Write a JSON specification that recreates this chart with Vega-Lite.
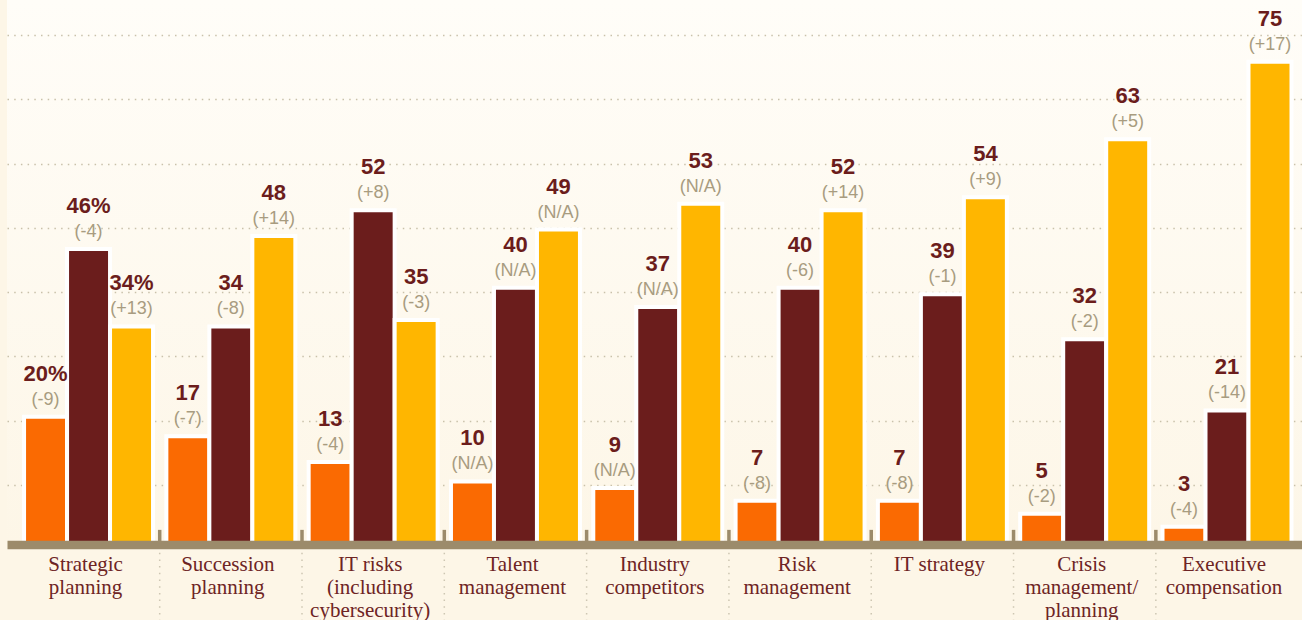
{
  "$schema": "https://vega.github.io/schema/vega-lite/v6.json",
  "width": 1295,
  "height": 546,
  "autosize": {"type": "none"},
  "padding": {"left": 7, "top": 0, "right": 0, "bottom": 74},
  "background": "#fdf6e7",
  "config": {
    "view": {
      "stroke": null,
      "fill": {"gradient": "linear", "x1": 0, "y1": 0, "x2": 0, "y2": 1, "stops": [{"offset": 0, "color": "#fffdf8"}, {"offset": 1, "color": "#fdf6e7"}]}
    }
  },
  "data": {
    "values": [
      {"cat": "Strategic planning", "series": "s1", "value": 20, "label": "20%", "change": "(-9)"},
      {"cat": "Strategic planning", "series": "s2", "value": 46, "label": "46%", "change": "(-4)"},
      {"cat": "Strategic planning", "series": "s3", "value": 34, "label": "34%", "change": "(+13)"},
      {"cat": "Succession planning", "series": "s1", "value": 17, "label": "17", "change": "(-7)"},
      {"cat": "Succession planning", "series": "s2", "value": 34, "label": "34", "change": "(-8)"},
      {"cat": "Succession planning", "series": "s3", "value": 48, "label": "48", "change": "(+14)"},
      {"cat": "IT risks (including cybersecurity)", "series": "s1", "value": 13, "label": "13", "change": "(-4)"},
      {"cat": "IT risks (including cybersecurity)", "series": "s2", "value": 52, "label": "52", "change": "(+8)"},
      {"cat": "IT risks (including cybersecurity)", "series": "s3", "value": 35, "label": "35", "change": "(-3)"},
      {"cat": "Talent management", "series": "s1", "value": 10, "label": "10", "change": "(N/A)"},
      {"cat": "Talent management", "series": "s2", "value": 40, "label": "40", "change": "(N/A)"},
      {"cat": "Talent management", "series": "s3", "value": 49, "label": "49", "change": "(N/A)"},
      {"cat": "Industry competitors", "series": "s1", "value": 9, "label": "9", "change": "(N/A)"},
      {"cat": "Industry competitors", "series": "s2", "value": 37, "label": "37", "change": "(N/A)"},
      {"cat": "Industry competitors", "series": "s3", "value": 53, "label": "53", "change": "(N/A)"},
      {"cat": "Risk management", "series": "s1", "value": 7, "label": "7", "change": "(-8)"},
      {"cat": "Risk management", "series": "s2", "value": 40, "label": "40", "change": "(-6)"},
      {"cat": "Risk management", "series": "s3", "value": 52, "label": "52", "change": "(+14)"},
      {"cat": "IT strategy", "series": "s1", "value": 7, "label": "7", "change": "(-8)"},
      {"cat": "IT strategy", "series": "s2", "value": 39, "label": "39", "change": "(-1)"},
      {"cat": "IT strategy", "series": "s3", "value": 54, "label": "54", "change": "(+9)"},
      {"cat": "Crisis management/planning", "series": "s1", "value": 5, "label": "5", "change": "(-2)"},
      {"cat": "Crisis management/planning", "series": "s2", "value": 32, "label": "32", "change": "(-2)"},
      {"cat": "Crisis management/planning", "series": "s3", "value": 63, "label": "63", "change": "(+5)"},
      {"cat": "Executive compensation", "series": "s1", "value": 3, "label": "3", "change": "(-4)"},
      {"cat": "Executive compensation", "series": "s2", "value": 21, "label": "21", "change": "(-14)"},
      {"cat": "Executive compensation", "series": "s3", "value": 75, "label": "75", "change": "(+17)"}
    ]
  },
  "encoding": {
    "x": {
      "field": "cat", "type": "nominal", "sort": null,
      "scale": {"paddingInner": 0, "paddingOuter": 0.05, "align": 0.73},
      "axis": {
        "title": null, "labelAngle": 0, "ticks": false, "zindex": 1, "offset": -1.5,
        "domainColor": "#9c8b6b", "domainWidth": 8.5, "domainCap": "butt",
        "labelFont": "Liberation Serif", "labelFontSize": 21, "labelColor": "#6e2424",
        "labelLineHeight": 23, "labelPadding": 9, "labelBaseline": "top", "labelLimit": 0, "labelOffset": -3,
        "labelExpr": "datum.label == 'IT strategy' ? datum.label : datum.label == 'IT risks (including cybersecurity)' ? ['IT risks', '(including', 'cybersecurity)'] : datum.label == 'Crisis management/planning' ? ['Crisis', 'management/', 'planning'] : split(datum.label, ' ')"
      }
    },
    "y": {"field": "value", "type": "quantitative"}
  },
  "layer": [
    {
      "mark": {"type": "bar", "stroke": "white", "strokeWidth": 4},
      "encoding": {
        "xOffset": {"field": "series", "type": "nominal", "sort": null, "scale": {"paddingInner": 0, "paddingOuter": 0.155}},
        "y": {
          "field": "value", "type": "quantitative",
          "scale": {"domain": [0, 84.55], "nice": false, "zero": true},
          "axis": {"title": null, "labels": false, "ticks": false, "domain": false, "grid": true, "zindex": 0,
            "values": [9.45, 19.4, 29.4, 39.3, 49.3, 59.2, 69.2, 79.2],
            "gridColor": "#c9c1aa", "gridWidth": 1.5, "gridDash": [1.5, 5.2]}
        },
        "color": {"field": "series", "type": "nominal", "legend": null,
          "scale": {"domain": ["s1", "s2", "s3"], "range": ["#fa6a02", "#6b1d1c", "#ffb600"]}}
      }
    },
    {
      "transform": [{"filter": "datum.series == 's1' && datum.cat != 'Strategic planning'"}],
      "mark": {"type": "rule", "color": "#cdc6b2", "strokeWidth": 1.5, "strokeDash": [1.5, 5.2]},
      "encoding": {
        "x": {"field": "cat", "type": "nominal", "sort": null, "bandPosition": 0},
        "y": {"datum": 0, "type": "quantitative"},
        "y2": {"datum": -11.5}
      }
    },
    {
      "transform": [{"filter": "datum.series == 's1' && datum.cat != 'Strategic planning'"}],
      "mark": {"type": "rule", "color": "#9c8b6b", "strokeWidth": 3.5},
      "encoding": {
        "x": {"field": "cat", "type": "nominal", "sort": null, "bandPosition": 0},
        "y": {"datum": 0, "type": "quantitative"},
        "y2": {"datum": 2.5}
      }
    },
    {
      "mark": {"type": "text", "font": "Liberation Sans", "fontWeight": "bold", "fontSize": 22, "color": "#6b1d1c", "baseline": "alphabetic", "dy": -36},
      "encoding": {
        "xOffset": {"field": "series", "type": "nominal", "sort": null},
        "text": {"field": "label"}
      }
    },
    {
      "mark": {"type": "text", "font": "Liberation Sans", "fontSize": 18, "color": "#a89c80", "baseline": "alphabetic", "dy": -12},
      "encoding": {
        "xOffset": {"field": "series", "type": "nominal", "sort": null},
        "text": {"field": "change"}
      }
    }
  ]
}
